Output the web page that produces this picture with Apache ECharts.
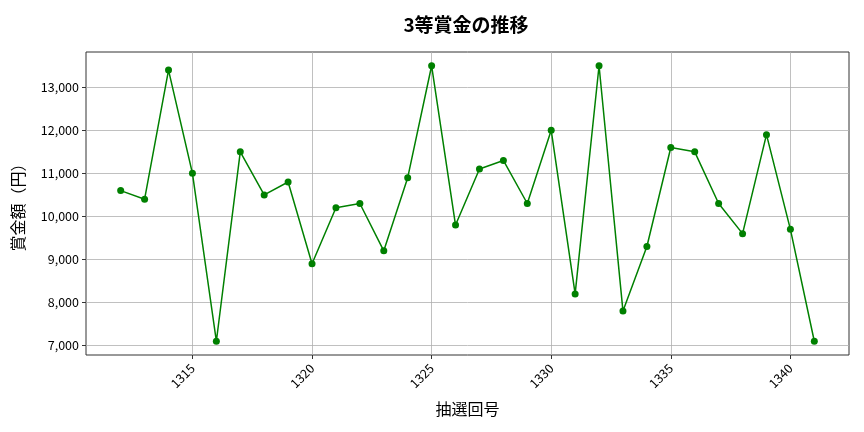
<!DOCTYPE html>
<html>
	<head>
		<meta charset="utf-8">
		<title>3等賞金の推移</title>
		<script src="https://cdn.jsdelivr.net/npm/echarts@6/dist/echarts.min.js"></script>
		<style type="text/css">
			html, body {
				margin: 0;
				padding: 0;
				background: #fff;
			}

			#chart {
				width: 864px;
				height: 432px;
			}
		</style>
	</head>

	<body>
		<div id="chart"></div>

		<script>
			// 抽選回号
			var rounds = [1312, 1313, 1314, 1315, 1316, 1317, 1318, 1319, 1320, 1321,
				1322, 1323, 1324, 1325, 1326, 1327, 1328, 1329, 1330, 1331,
				1332, 1333, 1334, 1335, 1336, 1337, 1338, 1339, 1340, 1341];
			// 賞金額（円）
			var prizes = [10600, 10400, 13400, 11000, 7100, 11500, 10500, 10800, 8900, 10200,
				10300, 9200, 10900, 13500, 9800, 11100, 11300, 10300, 12000, 8200,
				13500, 7800, 9300, 11600, 11500, 10300, 9600, 11900, 9700, 7100];
			var xTicks = [1315, 1320, 1325, 1330, 1335, 1340];
			var yTicks = [7000, 8000, 9000, 10000, 11000, 12000, 13000];

			var points = [];
			for (var i = 0; i < rounds.length; i++) {
				points.push([rounds[i], prizes[i]]);
			}

			var font = "'Noto Sans CJK JP', 'DejaVu Sans', sans-serif";
			var chart = echarts.init(document.getElementById('chart'));

			chart.setOption({
				animation: false,
				textStyle: {
					fontFamily: font
				},
				title: {
					text: '3等賞金の推移',
					left: 461,
					top: 10,
					textAlign: 'center',
					textStyle: {
						fontFamily: font,
						fontSize: 19,
						fontWeight: 'bold',
						color: '#000'
					}
				},
				grid: {
					left: 86,
					right: 15,
					top: 52,
					bottom: 77,
					show: true,
					borderColor: '#333',
					borderWidth: 1
				},
				xAxis: {
					type: 'value',
					min: 1310.55,
					max: 1342.45,
					name: '抽選回号',
					nameLocation: 'middle',
					nameGap: 46,
					nameTextStyle: {
						fontSize: 16,
						color: '#000'
					},
					axisLine: {
						show: false
					},
					axisTick: {
						show: true,
						length: 4,
						customValues: xTicks,
						lineStyle: {
							color: '#333'
						}
					},
					axisLabel: {
						rotate: 45,
						fontSize: 12.5,
						color: '#000',
						margin: 11,
						customValues: xTicks,
						formatter: function(v) {
							return String(v);
						}
					},
					splitLine: {
						show: true,
						lineStyle: {
							color: '#b0b0b0',
							width: 0.8
						}
					}
				},
				yAxis: {
					type: 'value',
					min: 6780,
					max: 13820,
					name: '賞金額（円）',
					nameLocation: 'middle',
					nameGap: 60,
					nameTextStyle: {
						fontSize: 16,
						color: '#000'
					},
					axisLine: {
						show: false
					},
					axisTick: {
						show: true,
						length: 4,
						customValues: yTicks,
						lineStyle: {
							color: '#333'
						}
					},
					axisLabel: {
						fontSize: 12.5,
						color: '#000',
						margin: 7,
						customValues: yTicks,
						formatter: function(v) {
							return v.toLocaleString('en-US');
						}
					},
					splitLine: {
						show: true,
						lineStyle: {
							color: '#b0b0b0',
							width: 0.8
						}
					}
				},
				series: [{
					name: '3等',
					type: 'line',
					data: points,
					symbol: 'circle',
					symbolSize: 7,
					itemStyle: {
						color: '#008000'
					},
					lineStyle: {
						color: '#008000',
						width: 1.5
					}
				}]
			});
		</script>
	</body>
</html>
